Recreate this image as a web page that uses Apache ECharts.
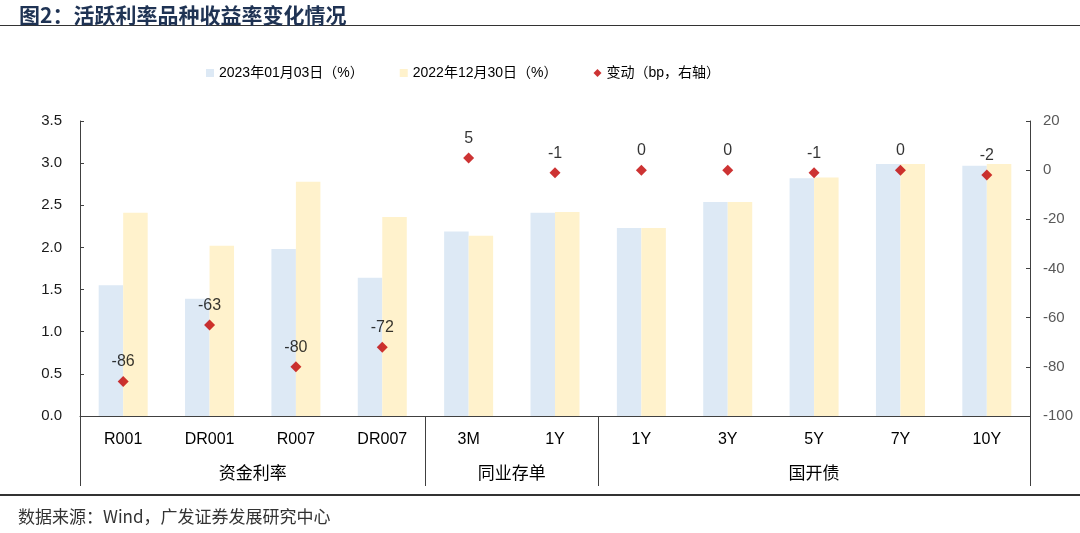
<!DOCTYPE html>
<html>
<head>
<meta charset="utf-8">
<script src="https://cdn.jsdelivr.net/npm/echarts@6/dist/echarts.min.js"></script>
<style>
html,body{margin:0;padding:0;background:#fff;}
#c{width:1080px;height:533px;}
</style>
</head>
<body>
<div id="c"></div>
<script>
// ---- data ----
var categories = ['R001','DR001','R007','DR007','3M','1Y','1Y','3Y','5Y','7Y','10Y'];
var groupNames = ['资金利率','同业存单','国开债'];
var groupCenters = [1.5, 4.5, 8];
var groupBounds = [-0.5, 3.5, 5.5, 10.5];
var seriesNames = ['2023年01月03日（%）','2022年12月30日（%）','变动（bp，右轴）'];
var yield20230103 = [1.55, 1.39, 1.98, 1.64, 2.19, 2.41, 2.23, 2.54, 2.82, 2.99, 2.97];
var yield20221230 = [2.41, 2.02, 2.78, 2.36, 2.14, 2.42, 2.23, 2.54, 2.83, 2.99, 2.99];
var changeBp = [-86, -63, -80, -72, 5, -1, 0, 0, -1, 0, -2];
var leftTicks = {min: 0, max: 3.5, interval: 0.5};
var rightTicks = {min: -100, max: 20, interval: 20};

var FONT = '"Liberation Sans", Arial, "Noto Sans CJK SC", sans-serif';
var CJK = '"Noto Sans CJK SC", "Liberation Sans", sans-serif';
var AX = '#404040';

var chart = echarts.init(document.getElementById('c'), null, {renderer: 'canvas'});
chart.setOption({
  animation: false,
  backgroundColor: '#fff',
  textStyle: {fontFamily: FONT},
  title: [{
    text: '图2：活跃利率品种收益率变化情况',
    left: 14, top: 0,
    textStyle: {fontFamily: CJK, fontSize: 21, fontWeight: 'bold', color: '#1f3354'}
  }, {
    text: '数据来源：Wind，广发证券发展研究中心',
    left: 13, top: 503,
    textStyle: {fontFamily: CJK, fontSize: 17, fontWeight: 'normal', color: '#333'}
  }],
  graphic: [
    {type: 'line', shape: {x1: 0, y1: 25.5, x2: 1080, y2: 25.5}, style: {stroke: '#333', lineWidth: 1}},
    {type: 'line', shape: {x1: 0, y1: 495, x2: 1080, y2: 495}, style: {stroke: '#333', lineWidth: 2}}
  ],
  legend: {
    top: 61, left: 201,
    itemWidth: 8, itemHeight: 8, itemGap: 36,
    textStyle: {fontFamily: FONT, fontSize: 14, color: '#000'},
    data: [
      {name: seriesNames[0], icon: 'rect'},
      {name: seriesNames[1], icon: 'rect'},
      {name: seriesNames[2], icon: 'diamond'}
    ]
  },
  grid: {left: 80, right: 50, top: 121, bottom: 117, containLabel: false},
  xAxis: [{
    type: 'category',
    data: categories,
    position: 'bottom',
    axisLine: {show: true, onZero: false, lineStyle: {color: AX, width: 1}},
    axisTick: {show: false},
    axisLabel: {fontSize: 16, color: '#000', margin: 16, interval: 0, fontFamily: FONT}
  }, {
    type: 'value',
    min: -0.5, max: 10.5,
    position: 'bottom',
    axisLine: {show: false, onZero: false},
    splitLine: {show: false},
    axisTick: {show: true, inside: false, length: 70, customValues: groupBounds, lineStyle: {color: AX, width: 1}},
    axisLabel: {
      show: true, margin: 48, customValues: groupCenters,
      fontSize: 17, color: '#000', fontFamily: CJK,
      formatter: function (v) {
        for (var i = 0; i < groupCenters.length; i++) if (Math.abs(groupCenters[i] - v) < 1e-6) return groupNames[i];
        return '';
      }
    }
  }],
  yAxis: [{
    type: 'value',
    min: leftTicks.min, max: leftTicks.max, interval: leftTicks.interval,
    position: 'left',
    axisLine: {show: true, onZero: false, lineStyle: {color: AX}},
    axisTick: {show: true, inside: true, length: 4, lineStyle: {color: AX}},
    splitLine: {show: false},
    axisLabel: {fontSize: 15, color: '#1a1a1a', margin: 18, formatter: function (v) { return v.toFixed(1); }}
  }, {
    type: 'value',
    min: rightTicks.min, max: rightTicks.max, interval: rightTicks.interval,
    position: 'right',
    axisLine: {show: true, onZero: false, lineStyle: {color: AX}},
    axisTick: {show: true, inside: true, length: 4, lineStyle: {color: AX}},
    splitLine: {show: false},
    axisLabel: {fontSize: 15, color: '#595959', margin: 13}
  }],
  series: [{
    name: seriesNames[0], type: 'bar', data: yield20230103,
    xAxisIndex: 0, yAxisIndex: 0,
    barWidth: 24.5, barGap: '0%',
    itemStyle: {color: '#dde9f5'}
  }, {
    name: seriesNames[1], type: 'bar', data: yield20221230,
    xAxisIndex: 0, yAxisIndex: 0,
    barWidth: 24.5, barGap: '0%',
    itemStyle: {color: '#fff2cc'}
  }, {
    name: seriesNames[2], type: 'scatter', data: changeBp,
    xAxisIndex: 0, yAxisIndex: 1,
    symbol: 'diamond', symbolSize: 11,
    itemStyle: {color: '#c00000'},
    z: 5,
    label: {show: true, position: 'top', distance: 6, fontSize: 16, color: '#000', fontFamily: FONT}
  }]
});
</script>
</body>
</html>
